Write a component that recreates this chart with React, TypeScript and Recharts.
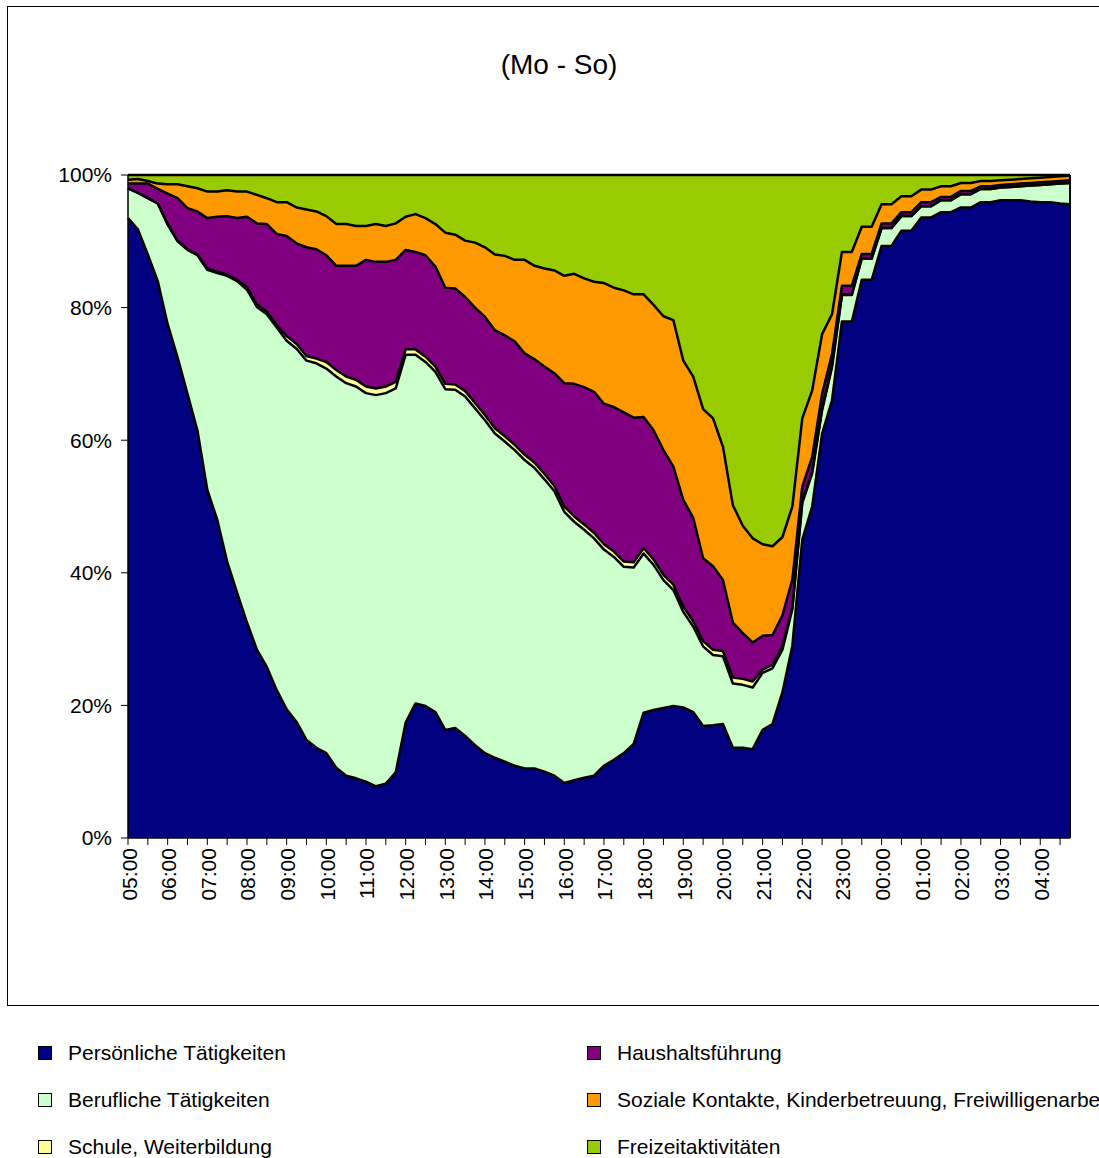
import { AreaChart, Area, XAxis, YAxis, ReferenceLine } from "recharts";

const times = [
  "05:00", "05:15", "05:30", "05:45", "06:00", "06:15", "06:30", "06:45",
  "07:00", "07:15", "07:30", "07:45", "08:00", "08:15", "08:30", "08:45",
  "09:00", "09:15", "09:30", "09:45", "10:00", "10:15", "10:30", "10:45",
  "11:00", "11:15", "11:30", "11:45", "12:00", "12:15", "12:30", "12:45",
  "13:00", "13:15", "13:30", "13:45", "14:00", "14:15", "14:30", "14:45",
  "15:00", "15:15", "15:30", "15:45", "16:00", "16:15", "16:30", "16:45",
  "17:00", "17:15", "17:30", "17:45", "18:00", "18:15", "18:30", "18:45",
  "19:00", "19:15", "19:30", "19:45", "20:00", "20:15", "20:30", "20:45",
  "21:00", "21:15", "21:30", "21:45", "22:00", "22:15", "22:30", "22:45",
  "23:00", "23:15", "23:30", "23:45", "00:00", "00:15", "00:30", "00:45",
  "01:00", "01:15", "01:30", "01:45", "02:00", "02:15", "02:30", "02:45",
  "03:00", "03:15", "03:30", "03:45", "04:00", "04:15", "04:30", "04:45",
];

// Anteile in % je Viertelstunde
const persoenlich = [
  93.5, 91.8, 88.0, 84.0, 77.5, 72.5, 67.0, 61.5, 52.5, 48.0, 41.7, 37.0,
  32.5, 28.4, 25.8, 22.3, 19.4, 17.5, 14.8, 13.6, 12.8, 10.6, 9.4, 9.0,
  8.5, 7.8, 8.2, 9.9, 17.4, 20.3, 19.9, 19.0, 16.3, 16.6, 15.4, 14.0,
  12.8, 12.1, 11.5, 10.9, 10.5, 10.5, 10.0, 9.4, 8.3, 8.7, 9.1, 9.4,
  10.9, 11.8, 12.8, 14.2, 18.9, 19.3, 19.6, 19.9, 19.7, 19.0, 16.9, 17.0,
  17.2, 13.6, 13.6, 13.4, 16.3, 17.2, 22.0, 29.0, 45.0, 50.0, 61.0, 66.0,
  77.9, 77.9, 84.2, 84.2, 89.3, 89.3, 91.6, 91.6, 93.6, 93.6, 94.4, 94.4,
  95.1, 95.1, 95.9, 95.9, 96.2, 96.2, 96.2, 96.0, 95.9, 95.9, 95.7, 95.6,
];

const beruflich = [
  4.5, 5.5, 8.5, 11.7, 15.0, 17.5, 21.7, 26.4, 33.2, 37.2, 43.1, 47.0,
  50.2, 51.7, 53.2, 54.7, 55.6, 56.3, 57.2, 58.0, 58.0, 59.0, 59.2, 59.1,
  58.6, 59.0, 58.9, 57.9, 55.5, 52.6, 51.9, 51.3, 51.4, 51.0, 51.2, 50.8,
  50.2, 48.9, 48.3, 47.6, 46.5, 45.3, 44.1, 42.9, 40.9, 39.0, 37.4, 35.8,
  32.6, 30.6, 28.1, 26.6, 24.0, 21.9, 19.3, 17.5, 14.4, 12.9, 12.0, 10.6,
  10.2, 9.7, 9.5, 9.3, 8.6, 8.4, 6.4, 5.5, 5.5, 5.0, 3.5, 5.0,
  4.0, 4.0, 3.2, 3.2, 2.7, 2.7, 2.2, 2.2, 1.7, 1.7, 1.8, 1.8,
  2.0, 2.0, 2.0, 2.0, 1.9, 2.0, 2.1, 2.4, 2.6, 2.7, 3.0, 3.2,
];

const schule = [
  0, 0, 0, 0, 0.1, 0.1, 0.1, 0.1, 0.2, 0.2, 0.2, 0.2,
  0.4, 0.4, 0.4, 0.4, 0.7, 0.7, 0.7, 0.7, 1.0, 1.0, 1.0, 1.0,
  1.0, 1.0, 1.0, 1.0, 0.8, 0.8, 0.8, 0.8, 0.8, 0.8, 0.8, 0.8,
  0.8, 0.8, 0.8, 0.8, 0.8, 0.8, 0.8, 0.8, 0.8, 0.8, 0.8, 0.8,
  0.8, 0.8, 0.8, 0.8, 0.8, 0.8, 0.8, 0.8, 0.8, 0.8, 0.8, 0.8,
  0.8, 0.9, 0.9, 0.9, 0.5, 0.5, 0.5, 0.3, 0.3, 0.3, 0.3, 0.3,
  0.1, 0.1, 0, 0, 0, 0, 0, 0, 0, 0, 0, 0,
  0, 0, 0, 0, 0, 0, 0, 0, 0, 0, 0, 0,
];

const haushalt = [
  0.7, 1.4, 2.2, 2.2, 4.6, 6.4, 6.2, 6.5, 7.6, 8.3, 8.8, 9.3,
  10.6, 12.2, 13.2, 13.7, 15.1, 15.2, 16.4, 16.5, 16.1, 15.7, 16.7, 17.2,
  19.1, 19.1, 18.8, 18.4, 15.0, 14.7, 15.3, 15.1, 14.5, 14.5, 14.2, 14.4,
  14.8, 14.8, 15.2, 15.6, 15.3, 15.6, 16.2, 17.0, 18.6, 20.0, 20.7, 21.3,
  21.2, 21.8, 22.5, 21.8, 19.8, 19.5, 18.8, 17.8, 16.1, 15.6, 12.5, 12.6,
  10.7, 8.3, 6.9, 5.9, 5.1, 4.5, 4.7, 4.2, 2.2, 2.2, 2.2, 1.7,
  1.3, 1.3, 0.7, 0.7, 0.7, 0.7, 0.6, 0.6, 0.6, 0.6, 0.5, 0.5,
  0.5, 0.5, 0.4, 0.4, 0.4, 0.4, 0.4, 0.4, 0.4, 0.4, 0.4, 0.4,
];

const sozial = [
  0.6, 0.7, 0.4, 0.8, 1.4, 2.1, 3.3, 3.5, 4.0, 3.8, 3.9, 4.0,
  3.8, 4.3, 3.9, 4.8, 5.1, 5.4, 5.7, 5.7, 5.9, 6.3, 6.3, 6.0,
  5.1, 5.7, 5.4, 5.5, 5.0, 5.7, 5.6, 6.4, 8.3, 8.1, 8.5, 9.8,
  10.5, 11.4, 12.0, 12.3, 14.1, 14.1, 14.8, 15.5, 16.2, 16.6, 16.4, 16.6,
  18.2, 18.0, 18.4, 18.6, 18.5, 18.9, 20.2, 22.1, 21.0, 21.3, 22.5, 22.3,
  20.1, 17.7, 16.2, 15.7, 13.8, 13.4, 11.8, 11.0, 10.3, 10.0, 9.0, 6.0,
  5.1, 5.1, 4.1, 4.1, 2.9, 2.9, 2.4, 2.4, 1.9, 1.9, 1.6, 1.6,
  1.2, 1.2, 0.8, 0.8, 0.7, 0.7, 0.7, 0.7, 0.7, 0.7, 0.7, 0.7,
];

const freizeit = [
  0.7, 0.6, 0.9, 1.3, 1.4, 1.4, 1.7, 2.0, 2.5, 2.5, 2.3, 2.5,
  2.5, 3.0, 3.5, 4.1, 4.1, 4.9, 5.2, 5.5, 6.2, 7.4, 7.4, 7.7,
  7.7, 7.4, 7.7, 7.3, 6.3, 5.9, 6.5, 7.4, 8.7, 9.0, 9.9, 10.2,
  10.9, 12.0, 12.2, 12.8, 12.8, 13.7, 14.1, 14.4, 15.2, 14.9, 15.6, 16.1,
  16.3, 17.0, 17.4, 18.0, 18.0, 19.6, 21.3, 21.9, 28.0, 30.4, 35.3, 36.7,
  41.0, 49.8, 52.9, 54.8, 55.7, 56.0, 54.6, 50.0, 36.7, 32.5, 24.0, 21.0,
  11.6, 11.6, 7.8, 7.8, 4.4, 4.4, 3.2, 3.2, 2.2, 2.2, 1.7, 1.7,
  1.2, 1.2, 0.9, 0.9, 0.8, 0.7, 0.6, 0.5, 0.4, 0.3, 0.2, 0.1,
];

const yTicks = [0, 0.2, 0.4, 0.6, 0.8, 1];

const series = [
  { key: "pers", name: "Persönliche Tätigkeiten", color: "#000080", values: persoenlich },
  { key: "beruf", name: "Berufliche Tätigkeiten", color: "#CCFFCC", values: beruflich },
  { key: "schule", name: "Schule, Weiterbildung", color: "#FFFF99", values: schule },
  { key: "haus", name: "Haushaltsführung", color: "#800080", values: haushalt },
  { key: "sozial", name: "Soziale Kontakte, Kinderbetreuung, Freiwilligenarbeit", color: "#FF9900", values: sozial },
  { key: "frei", name: "Freizeitaktivitäten", color: "#99CC00", values: freizeit },
];

const data = times.map((t, i) => {
  const row: any = { t };
  series.forEach((s) => (row[s.key] = s.values[i]));
  return row;
});

const FONT = '"Liberation Sans", Arial, sans-serif';

const TimeTick = ({ x, y, payload }: any) => {
  if (!payload.value.endsWith(":00")) return null;
  return (
    <text
      x={x + 1}
      y={y}
      transform={`rotate(-90, ${x + 1}, ${y})`}
      textAnchor="end"
      dominantBaseline="central"
      fontSize={21}
      fontFamily={FONT}
      fill="#000"
    >
      {payload.value}
    </text>
  );
};

const legendPos = [
  { left: 38, top: 1053 },
  { left: 38, top: 1100 },
  { left: 38, top: 1147 },
  { left: 587, top: 1053 },
  { left: 587, top: 1100 },
  { left: 587, top: 1147 },
];

export default function App() {
  return (
    <div
      style={{
        position: "absolute",
        left: 0,
        top: 0,
        width: 1099,
        height: 1158,
        overflow: "hidden",
        background: "#fff",
        fontFamily: FONT,
      }}
    >
      <div
        style={{
          position: "absolute",
          left: 7,
          top: 6,
          width: 1200,
          height: 998,
          border: "1px solid #000",
        }}
      />
      <div
        style={{
          position: "absolute",
          left: 0,
          top: 48,
          width: 1118,
          textAlign: "center",
          fontSize: 28,
          lineHeight: "34px",
        }}
      >
        (Mo - So)
      </div>
      <div style={{ position: "absolute", left: 0, top: 0 }}>
        <AreaChart
          width={1099}
          height={1158}
          data={data}
          stackOffset="expand"
          margin={{ top: 175, right: 29, left: 68, bottom: 220 }}
        >
          <XAxis
            dataKey="t"
            interval={1}
            tickSize={7}
            tickMargin={3}
            height={100}
            axisLine={{ stroke: "#000", strokeWidth: 1.5 }}
            tickLine={{ stroke: "#000" }}
            tick={<TimeTick />}
          />
          <YAxis
            type="number"
            domain={[0, 1]}
            ticks={yTicks}
            width={60}
            tickSize={7}
            tickMargin={9}
            axisLine={{ stroke: "#000", strokeWidth: 1.5 }}
            tickLine={{ stroke: "#000" }}
            tick={{ fill: "#000", fontSize: 21, fontFamily: FONT }}
            tickFormatter={(v: number) => `${Math.round(v * 100)}%`}
          />
          {/* fills first */}
          {series.map((s) => (
            <Area
              key={s.key}
              type="linear"
              dataKey={s.key}
              name={s.name}
              stackId="fill"
              stroke="none"
              fill={s.color}
              fillOpacity={1}
              dot={false}
              activeDot={false}
              isAnimationActive={false}
            />
          ))}
          {/* black outlines drawn on top of all fills */}
          {series.map((s) => (
            <Area
              key={s.key + "-line"}
              type="linear"
              dataKey={s.key}
              stackId="line"
              stroke="#000"
              strokeWidth={2.5}
              strokeLinejoin="round"
              fill="none"
              dot={false}
              activeDot={false}
              legendType="none"
              isAnimationActive={false}
            />
          ))}
          <ReferenceLine x="04:45" stroke="#000" strokeWidth={2} />
        </AreaChart>
      </div>
      {series.map((s, i) => (
        <div
          key={s.key}
          style={{
            position: "absolute",
            left: legendPos[i].left,
            top: legendPos[i].top - 12,
            height: 24,
            display: "flex",
            alignItems: "center",
            whiteSpace: "nowrap",
            fontSize: 21,
          }}
        >
          <span
            style={{
              display: "inline-block",
              width: 12,
              height: 12,
              background: s.color,
              border: "1px solid #000",
              marginRight: 16,
            }}
          />
          <span>{s.name}</span>
        </div>
      ))}
    </div>
  );
}
